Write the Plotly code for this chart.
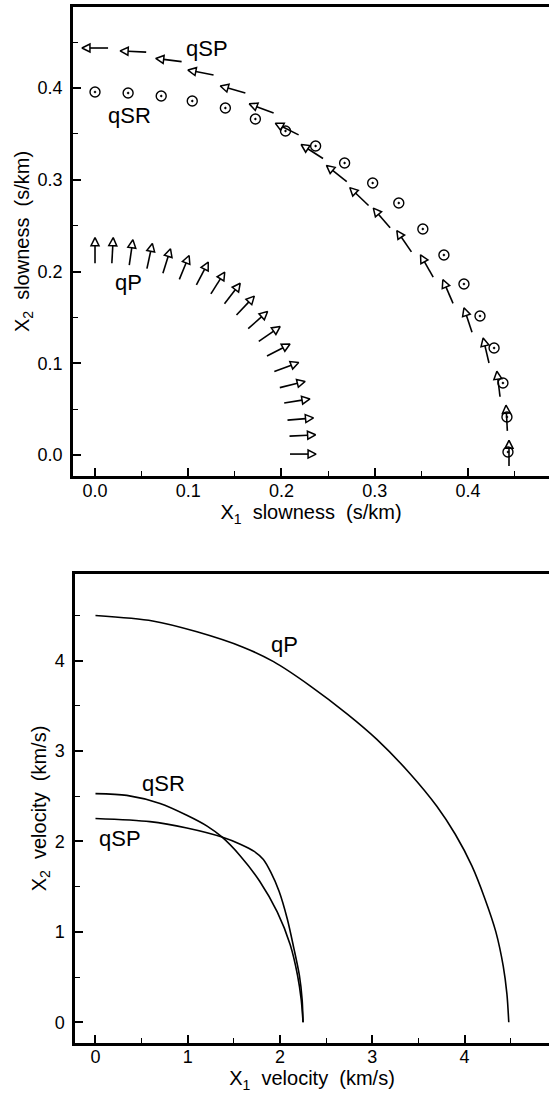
import numpy as np
import plotly.graph_objects as go

# ---------------- slowness surfaces (s/km), one sample every 5 deg of phase angle
# qP: slowness points and ray (group-velocity) direction in degrees from X1
qp_sx = [0.0000, 0.0188, 0.0387, 0.0586, 0.0769, 0.0957, 0.1151, 0.1317, 0.1473, 0.1613,
         0.1747, 0.1871, 0.1968, 0.2054, 0.2118, 0.2167, 0.2204, 0.2226, 0.2231]
qp_sz = [0.2229, 0.2229, 0.2207, 0.2169, 0.2114, 0.2044, 0.1978, 0.1875, 0.1760, 0.1629,
         0.1471, 0.1319, 0.1144, 0.0959, 0.0768, 0.0589, 0.0392, 0.0213, 0.0010]
qp_ray = [90, 87, 82, 78, 73, 68, 63, 58, 53, 47, 42, 35, 28, 21, 14, 9, 5, 3, 0]

# qSP: slowness points and ray direction
qsp_sx = [0.0000, 0.0409, 0.0790, 0.1134, 0.1478, 0.1785, 0.2059, 0.2328, 0.2591, 0.2833,
          0.3075, 0.3315, 0.3559, 0.3785, 0.4000, 0.4194, 0.4327, 0.4415, 0.4440]
qsp_sz = [0.4436, 0.4398, 0.4305, 0.4169, 0.3984, 0.3777, 0.3553, 0.3308, 0.3068, 0.2817,
          0.2583, 0.2330, 0.2060, 0.1782, 0.1471, 0.1139, 0.0774, 0.0403, 0.0020]
qsp_ray = [180, 177, 173, 169, 164, 159, 153, 147, 141, 136, 130, 124, 119, 113, 108, 103, 97, 93, 90]

# qSR: slowness points
qsr_sx = [0.0000, 0.0355, 0.0710, 0.1043, 0.1398, 0.1720, 0.2043, 0.2366, 0.2677, 0.2978,
          0.3258, 0.3516, 0.3742, 0.3957, 0.4129, 0.4280, 0.4375, 0.4418, 0.4429]
qsr_sz = [0.3956, 0.3946, 0.3913, 0.3858, 0.3782, 0.3662, 0.3531, 0.3368, 0.3183, 0.2965,
          0.2747, 0.2463, 0.2180, 0.1864, 0.1515, 0.1166, 0.0785, 0.0414, 0.0033]

# ---------------- wave surfaces (km/s)
qp_vx = [0.00, 0.62, 1.10, 1.60, 1.93, 2.33, 2.73, 3.05, 3.41, 3.70, 3.90, 4.08, 4.22, 4.34, 4.42, 4.46, 4.48]
qp_vz = [4.50, 4.44, 4.32, 4.15, 3.99, 3.72, 3.41, 3.13, 2.75, 2.39, 2.08, 1.73, 1.37, 1.00, 0.62, 0.31, 0.00]

qsr_vx = [0.00, 0.34, 0.70, 0.99, 1.21, 1.37, 1.57, 1.78, 1.97, 2.11, 2.19, 2.23, 2.25]
qsr_vz = [2.53, 2.51, 2.42, 2.29, 2.17, 2.05, 1.84, 1.56, 1.22, 0.86, 0.52, 0.25, 0.00]

qsp_vx = [0.00, 0.59, 0.99, 1.37, 1.57, 1.72, 1.82, 1.90, 1.99, 2.08, 2.15, 2.21, 2.24, 2.25]
qsp_vz = [2.255, 2.22, 2.15, 2.05, 1.97, 1.89, 1.80, 1.66, 1.45, 1.14, 0.82, 0.52, 0.25, 0.00]

# curve labels (text, x, y)
slow_labels = [("qSP", 0.120, 0.4436), ("qSR", 0.0375, 0.3695), ("qP", 0.0354, 0.1875)]
vel_labels = [("qP", 2.05, 4.18), ("qSR", 0.74, 2.64), ("qSP", 0.27, 2.03)]

# ---------------- styling constants
FONT = "Liberation Sans"
ARROW_LEN = 0.028   # full arrow length in slowness units
HEAD_LEN = 0.0085   # open head length in slowness units
INK = "black"


def arrow_traces(sx, sz, ray, xa, ya):
    """Ray-direction arrows centred on each slowness point."""
    sx, sz, ang = np.asarray(sx), np.asarray(sz), np.radians(ray)
    ux, uz = np.cos(ang), np.sin(ang)
    tipx, tipz = sx + ARROW_LEN / 2 * ux, sz + ARROW_LEN / 2 * uz
    tailx, tailz = sx - ARROW_LEN / 2 * ux, sz - ARROW_LEN / 2 * uz
    basex, basez = tipx - HEAD_LEN * ux, tipz - HEAD_LEN * uz
    lx, lz = [], []
    for a, b, c, d in zip(tailx, basex, tailz, basez):
        lx += [a, b, None]
        lz += [c, d, None]
    shaft = go.Scatter(x=lx, y=lz, mode="lines", xaxis=xa, yaxis=ya,
                       line=dict(color=INK, width=1.6), hoverinfo="skip")
    head = go.Scatter(x=tipx, y=tipz, mode="markers", xaxis=xa, yaxis=ya,
                      marker=dict(symbol="arrow-up-open", size=8,
                                  angle=list(90 - np.asarray(ray, float)),
                                  color=INK, line=dict(color=INK, width=1.5)),
                      hoverinfo="skip")
    return [shaft, head]


fig = go.Figure()

# slowness panel
for tr in arrow_traces(qp_sx, qp_sz, qp_ray, "x", "y"):
    fig.add_trace(tr)
for tr in arrow_traces(qsp_sx, qsp_sz, qsp_ray, "x", "y"):
    fig.add_trace(tr)
fig.add_trace(go.Scatter(x=qsr_sx, y=qsr_sz, mode="markers", xaxis="x", yaxis="y",
                         marker=dict(symbol="circle-open-dot", size=10, color=INK,
                                     line=dict(color=INK, width=1.4))))

# velocity panel
for vx, vz in [(qp_vx, qp_vz), (qsr_vx, qsr_vz), (qsp_vx, qsp_vz)]:
    fig.add_trace(go.Scatter(x=vx, y=vz, mode="lines", xaxis="x2", yaxis="y2",
                             line=dict(color=INK, width=1.6, shape="spline", smoothing=0.8)))

annots = []
for t, x, y in slow_labels:
    annots.append(dict(text=t, x=x, y=y, xref="x", yref="y", showarrow=False,
                       font=dict(family=FONT, size=22, color=INK)))
for t, x, y in vel_labels:
    annots.append(dict(text=t, x=x, y=y, xref="x2", yref="y2", showarrow=False,
                       font=dict(family=FONT, size=22, color=INK)))

W, H = 549, 1095


def axis(rng, dtick, fmt, domain, title, mirror, anchor, standoff, label_gap):
    return dict(range=rng, domain=domain, anchor=anchor, tickmode="linear", tick0=0,
                dtick=dtick, tickformat=fmt, showline=True, linewidth=2.5, linecolor=INK,
                mirror=mirror, ticks="inside", ticklen=8, tickwidth=1.5, tickcolor=INK,
                minor=dict(ticks="inside", ticklen=5, tickwidth=1.3, tickcolor=INK,
                           dtick=dtick / 2, tick0=0),
                showgrid=False, zeroline=False, ticklabelstandoff=label_gap,
                tickfont=dict(family=FONT, size=18, color=INK),
                title=dict(text=title, standoff=standoff,
                           font=dict(family=FONT, size=20, color=INK)),
                automargin=False)


fig.update_layout(
    width=W, height=H, margin=dict(l=0, r=0, t=0, b=0),
    paper_bgcolor="white", plot_bgcolor="white", showlegend=False,
    xaxis=axis([-0.0236, 0.4869], 0.1, ".1f", [73 / W, 1.0],
               "X<sub>1</sub>&nbsp; slowness&nbsp; (s/km)", True, "y", 4, -3),
    yaxis=axis([-0.0229, 0.4883], 0.1, ".1f", [1 - 476 / H, 1 - 7 / H],
               "X<sub>2</sub>&nbsp; slowness&nbsp; (s/km)", False, "x", 3, 4),
    xaxis2=axis([-0.222, 4.916], 1, "d", [75 / W, 1.0],
                "X<sub>1</sub>&nbsp; velocity&nbsp; (km/s)", True, "y2", 4, -4),
    yaxis2=axis([-0.23, 4.96], 1, "d", [1 - 1043 / H, 1 - 574 / H],
                "X<sub>2</sub>&nbsp; velocity&nbsp; (km/s)", False, "x2", 3, 4),
    annotations=annots,
)

fig.write_html("out.html")
